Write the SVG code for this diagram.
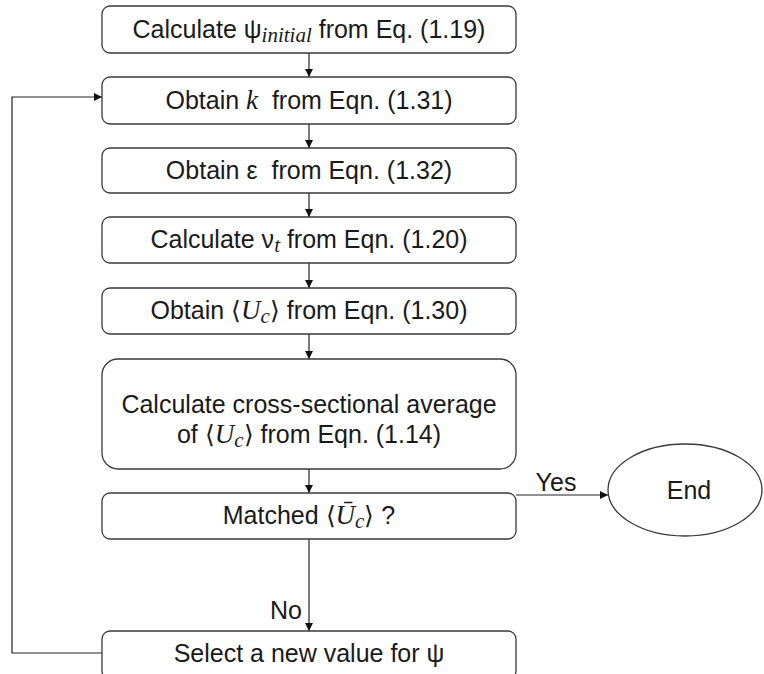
<svg xmlns="http://www.w3.org/2000/svg" width="764" height="674" viewBox="0 0 764 674">
<style>
.box{fill:#fff;stroke:#3a3a3a;stroke-width:1.3}
.t{font-family:"Liberation Sans",Arial,sans-serif;font-size:25px;fill:#1a1a1a;text-anchor:middle}
.m{font-family:"Liberation Serif","Times New Roman",serif;font-style:italic;font-size:27px}
.sub{font-size:21px}
.c{fill:none;stroke:#222;stroke-width:1.2}
</style>
<defs>
<marker id="ah" viewBox="0 0 10 10" refX="10" refY="5" markerWidth="8" markerHeight="8" markerUnits="userSpaceOnUse" orient="auto">
<path d="M0,0 L10,5 L0,10 z" fill="#111"/>
</marker>
</defs>
<rect width="764" height="674" fill="#fff"/>
<g id="connectors">
<line class="c" x1="309" y1="53" x2="309" y2="77" marker-end="url(#ah)"/>
<line class="c" x1="309" y1="124" x2="309" y2="148" marker-end="url(#ah)"/>
<line class="c" x1="309" y1="193" x2="309" y2="217" marker-end="url(#ah)"/>
<line class="c" x1="309" y1="263" x2="309" y2="288" marker-end="url(#ah)"/>
<line class="c" x1="309" y1="334" x2="309" y2="359" marker-end="url(#ah)"/>
<line class="c" x1="309" y1="469" x2="309" y2="493" marker-end="url(#ah)"/>
<line class="c" x1="309" y1="539" x2="309" y2="631" marker-end="url(#ah)"/>
<line class="c" x1="516" y1="495" x2="608" y2="495" marker-end="url(#ah)"/>
<polyline class="c" points="102,653 12,653 12,97 102,97" marker-end="url(#ah)"/>
<text class="t" x="556" y="491">Yes</text>
<text class="t" x="302" y="619" style="text-anchor:end">No</text>
</g>
<g id="n1">
<rect class="box" x="102" y="6" width="414" height="47" rx="8"/>
<text class="t" x="309" y="38">Calculate ψ<tspan class="m sub" dy="4">initial</tspan><tspan dy="-4"> from Eq. (1.19)</tspan></text>
</g>
<g id="n2">
<rect class="box" x="102" y="77" width="414" height="47" rx="8"/>
<text class="t" x="309" y="109">Obtain <tspan class="m">k</tspan>&#160; from Eqn. (1.31)</text>
</g>
<g id="n3">
<rect class="box" x="102" y="148" width="414" height="45" rx="8"/>
<text class="t" x="309" y="179">Obtain ε&#160; from Eqn. (1.32)</text>
</g>
<g id="n4">
<rect class="box" x="102" y="217" width="414" height="46" rx="8"/>
<text class="t" x="309" y="248">Calculate ν<tspan class="m sub" dy="4">t</tspan><tspan dy="-4"> from Eqn. (1.20)</tspan></text>
</g>
<g id="n5">
<rect class="box" x="102" y="288" width="414" height="46" rx="8"/>
<text class="t" x="309" y="319">Obtain ⟨<tspan class="m">U</tspan><tspan class="m sub" dy="4">c</tspan><tspan dy="-4">⟩ from Eqn. (1.30)</tspan></text>
</g>
<g id="n6">
<rect class="box" x="102" y="359" width="414" height="110" rx="16"/>
<text class="t" x="309" y="413">Calculate cross-sectional average</text>
<text class="t" x="309" y="443">of ⟨<tspan class="m">U</tspan><tspan class="m sub" dy="4">c</tspan><tspan dy="-4">⟩ from Eqn. (1.14)</tspan></text>
</g>
<g id="n7">
<rect class="box" x="102" y="493" width="414" height="46" rx="8"/>
<text class="t" x="309" y="524">Matched ⟨<tspan class="m">Ū</tspan><tspan class="m sub" dy="4">c</tspan><tspan dy="-4">⟩ ?</tspan></text>
</g>
<g id="n8">
<rect class="box" x="102" y="631" width="414" height="48" rx="8"/>
<text class="t" x="309" y="662">Select a new value for ψ</text>
</g>
<g id="end">
<ellipse class="box" cx="685" cy="490" rx="77" ry="46"/>
<text class="t" x="689" y="499">End</text>
</g>
</svg>
